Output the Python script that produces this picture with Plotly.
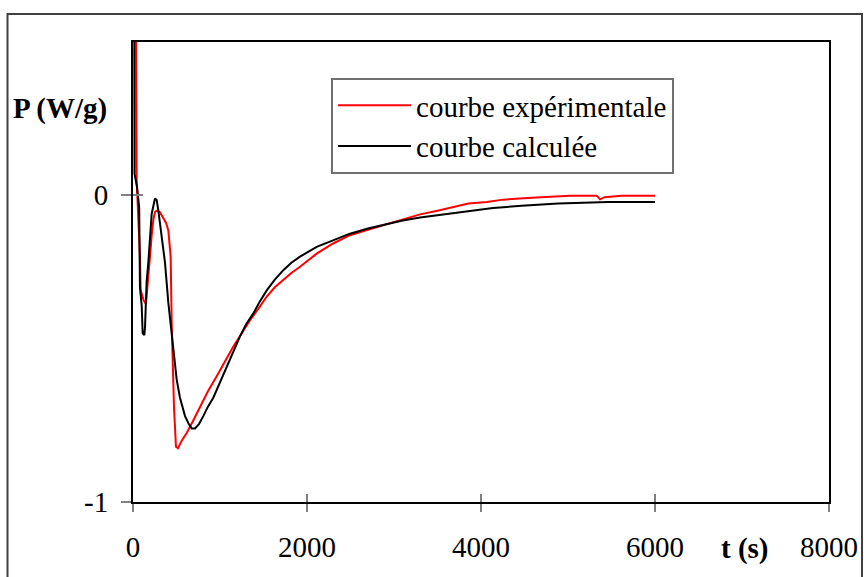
import plotly.graph_objects as go

# Experimental curve (red)
t_exp = [0, 42, 80, 88, 120, 138, 150, 157, 175, 195, 215, 234, 253, 280, 310, 349, 380, 406,
         433, 445, 456, 471, 494, 517, 560, 617, 700, 770, 860, 962, 1050, 1150, 1250, 1345,
         1440, 1537, 1630, 1725, 1820, 1920, 2111, 2300, 2494, 2700, 2900, 3100, 3300, 3500,
         3644, 3855, 4068, 4254, 4585, 5023, 5330, 5368, 5420, 5617, 6000]
p_exp = [3.0, 0.05, -0.2, -0.31, -0.34, -0.35, -0.35, -0.33, -0.27, -0.2, -0.13, -0.08, -0.054,
         -0.049, -0.055, -0.075, -0.09, -0.114, -0.2, -0.42, -0.54, -0.69, -0.82, -0.825, -0.80,
         -0.775, -0.73, -0.69, -0.64, -0.59, -0.545, -0.495, -0.45, -0.407, -0.37, -0.33, -0.30,
         -0.277, -0.253, -0.233, -0.19, -0.157, -0.13, -0.112, -0.095, -0.078, -0.062, -0.05,
         -0.041, -0.027, -0.022, -0.014, -0.008, -0.001, -0.001, -0.013, -0.006, -0.001, -0.001]

# Calculated curve (black)
t_calc = [0, 18, 47, 71, 80, 100, 111, 130, 138, 157, 176, 195, 215, 253, 272, 291, 310, 368,
          406, 433, 464, 502, 540, 598, 640, 675, 713, 760, 808, 860, 923, 1000, 1077, 1150,
          1230, 1300, 1383, 1460, 1537, 1630, 1728, 1820, 1920, 2111, 2303, 2494, 2700, 2900,
          3100, 3300, 3500, 3644, 3893, 4138, 4467, 4886, 5460, 6000]
p_calc = [3.0, 0.07, 0.026, -0.04, -0.3, -0.36, -0.45, -0.456, -0.43, -0.28, -0.22, -0.136,
          -0.06, -0.01, -0.015, -0.049, -0.092, -0.22, -0.35, -0.42, -0.516, -0.60, -0.66, -0.72,
          -0.745, -0.76, -0.76, -0.745, -0.72, -0.69, -0.66, -0.61, -0.56, -0.51, -0.46, -0.42,
          -0.385, -0.345, -0.31, -0.275, -0.244, -0.22, -0.20, -0.168, -0.147, -0.125, -0.108,
          -0.095, -0.082, -0.072, -0.065, -0.06, -0.049, -0.041, -0.034, -0.027, -0.022, -0.022]

x_ticks = [0, 2000, 4000, 6000, 8000]
x_tick_text = ["0", "2000", "4000", "6000", "8000"]
y_ticks = [-1, 0]
y_tick_text = ["-1", "0"]
x_range = [0, 8000]
y_range = [-1, 0.5]

FONT = "Liberation Serif, Times New Roman, serif"

fig = go.Figure()
fig.add_trace(go.Scatter(x=t_exp, y=p_exp, mode="lines", name="courbe expérimentale",
                         line=dict(color="#ff0000", width=2)))
fig.add_trace(go.Scatter(x=t_calc, y=p_calc, mode="lines", name="courbe calculée",
                         line=dict(color="#000000", width=2)))
# invisible trace to carry the inside-tick overlay axes
fig.add_trace(go.Scatter(x=[None], y=[None], xaxis="x2", yaxis="y2", showlegend=False,
                         hoverinfo="skip"))

axis_common = dict(showgrid=False, zeroline=False, automargin=False)
fig.update_layout(
    width=864, height=577,
    margin=dict(l=133, r=35, t=42, b=75),
    paper_bgcolor="white", plot_bgcolor="white",
    font=dict(family=FONT, size=29, color="black"),
    xaxis=dict(range=x_range, tickvals=x_ticks, ticktext=x_tick_text, ticks="outside",
               ticklen=8, tickwidth=1.5, tickcolor="#808080", showline=True, mirror=True,
               linecolor="black", linewidth=2, ticklabelstandoff=10, **axis_common),
    yaxis=dict(range=y_range, tickvals=y_ticks, ticktext=y_tick_text, ticks="outside",
               ticklen=10, tickwidth=1.5, tickcolor="#808080", showline=True, mirror=True,
               linecolor="black", linewidth=2, ticklabelstandoff=7, **axis_common),
    xaxis2=dict(range=x_range, tickvals=x_ticks, ticks="inside", ticklen=8, tickwidth=1.5,
                tickcolor="#808080", showticklabels=False, overlaying="x", anchor="y2",
                side="bottom", showline=False, **axis_common),
    yaxis2=dict(range=y_range, tickvals=y_ticks, ticks="inside", ticklen=10, tickwidth=1.5,
                tickcolor="#808080", showticklabels=False, overlaying="y", anchor="x2",
                side="left", showline=False, **axis_common),
    legend=dict(x=0.2845, y=0.9217, xanchor="left", yanchor="top", bgcolor="white",
                bordercolor="#707070", borderwidth=2, font=dict(family=FONT, size=29),
                itemwidth=73, tracegroupgap=0),
    showlegend=True,
    annotations=[
        dict(text="<b>P (W/g)</b>", xref="paper", yref="paper", x=-0.175, y=0.855,
             xanchor="left", yanchor="middle", showarrow=False, font=dict(size=29)),
        dict(text="<b>t (s)</b>", xref="paper", yref="paper", x=0.879, y=-0.10,
             xanchor="center", yanchor="middle", showarrow=False, font=dict(size=29)),
    ],
    shapes=[
        dict(type="rect", xref="paper", yref="paper", x0=-0.1803, x1=1.0474,
             y0=-0.1696, y1=1.0609, line=dict(color="#404040", width=2), layer="below"),
    ],
)

fig.write_html("out.html", config={"displayModeBar": False},
               post_script="document.body.style.margin='0';")
